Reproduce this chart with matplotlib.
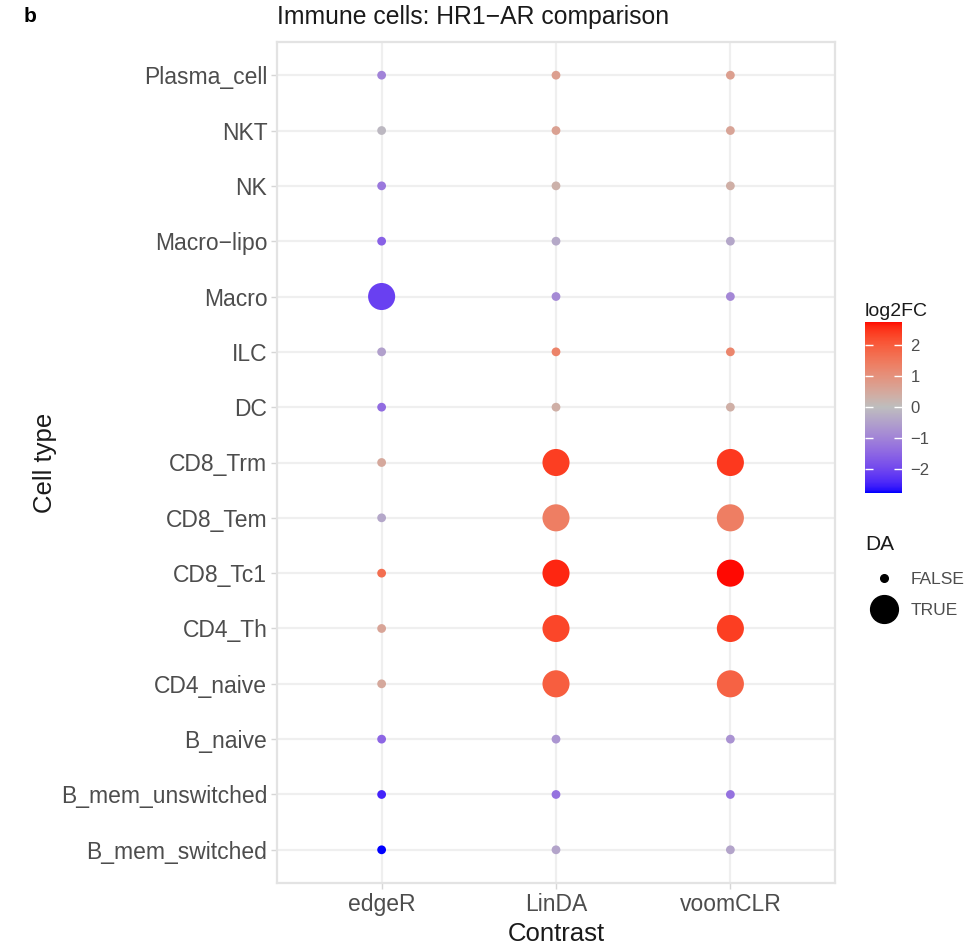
import numpy as np
import matplotlib
matplotlib.use("Agg")
import matplotlib.pyplot as plt
from matplotlib.colors import ListedColormap, Normalize
from matplotlib.lines import Line2D

plt.rcParams["font.family"] = ["Liberation Sans", "DejaVu Sans"]

# cell types, bottom to top
cell_types = ["B_mem_switched", "B_mem_unswitched", "B_naive", "CD4_naive", "CD4_Th",
              "CD8_Tc1", "CD8_Tem", "CD8_Trm", "DC", "ILC", "Macro", "Macro\u2212lipo",
              "NK", "NKT", "Plasma_cell"]
methods = ["edgeR", "LinDA", "voomCLR"]

lfc_edger = [-2.77, -2.5, -1.5, 0.5, 0.6, 1.7, -0.4, 0.5, -1.4, -0.5, -2.1, -1.6, -1.2, -0.1, -1.0]
lfc_linda = [-0.45, -1.3, -0.7, 1.95, 2.3, 2.6, 1.4, 2.4, 0.35, 1.3, -0.9, -0.35, 0.3, 0.65, 0.7]
lfc_voom = [-0.45, -1.3, -0.75, 1.9, 2.4, 2.74, 1.4, 2.45, 0.35, 1.25, -0.95, -0.4, 0.35, 0.6, 0.7]

da_edger = [False] * 10 + [True] + [False] * 4
da_linda = [False] * 3 + [True] * 5 + [False] * 7
da_voom = [False] * 3 + [True] * 5 + [False] * 7

lfc = [lfc_edger, lfc_linda, lfc_voom]
da = [da_edger, da_linda, da_voom]


# ggplot-style gradient2 (blue / grey / red), interpolated in CIELAB
def to_lab(rgb):
    c = np.asarray(rgb, float)
    lin = np.where(c <= 0.04045, c / 12.92, ((c + 0.055) / 1.055) ** 2.4)
    m = np.array([[0.4124, 0.3576, 0.1805], [0.2126, 0.7152, 0.0722], [0.0193, 0.1192, 0.9505]])
    xyz = m @ lin / np.array([0.95047, 1.0, 1.08883])
    f = np.where(xyz > 0.008856, np.cbrt(xyz), 7.787 * xyz + 16 / 116)
    return np.array([116 * f[1] - 16, 500 * (f[0] - f[1]), 200 * (f[1] - f[2])])


def from_lab(lab):
    L, a, b = lab
    fy = (L + 16) / 116
    fx = fy + a / 500
    fz = fy - b / 200
    f = np.array([fx, fy, fz])
    xyz = np.where(f ** 3 > 0.008856, f ** 3, (f - 16 / 116) / 7.787) * np.array([0.95047, 1.0, 1.08883])
    m = np.array([[3.2406, -1.5372, -0.4986], [-0.9689, 1.8758, 0.0415], [0.0557, -0.2040, 1.0570]])
    lin = np.clip(m @ xyz, 0, 1)
    return np.clip(np.where(lin <= 0.0031308, 12.92 * lin, 1.055 * lin ** (1 / 2.4) - 0.055), 0, 1)


low, mid, high = to_lab([0, 0, 1]), to_lab([190 / 255] * 3), to_lab([1, 0, 0])
cols = []
for t in np.linspace(0, 1, 256):
    if t < 0.5:
        cols.append(from_lab(low + (mid - low) * t * 2))
    else:
        cols.append(from_lab(mid + (high - mid) * (t - 0.5) * 2))
cmap = ListedColormap(cols)

all_vals = np.concatenate(lfc)
vmin, vmax = all_vals.min(), all_vals.max()
lim = max(abs(vmin), abs(vmax))
norm = Normalize(-lim, lim)

fig = plt.figure(figsize=(9.68, 9.44), dpi=100)
W, H = 968, 944
ax = fig.add_axes([277 / W, 61 / H, 558 / W, 841 / H])

y = np.arange(len(cell_types))
for i, m in enumerate(methods):
    sizes = [380 if d else 40 for d in da[i]]
    ax.scatter([i] * len(y), y, c=lfc[i], cmap=cmap, norm=norm, s=sizes, linewidths=0, zorder=3)

ax.set_xlim(-0.6, 2.6)
ax.set_ylim(-0.6, len(cell_types) - 0.4)
ax.set_xticks(range(len(methods)))
ax.set_xticklabels(methods)
ax.set_yticks(y)
ax.set_yticklabels(cell_types)
ax.set_axisbelow(True)
ax.grid(True, color="#EFEFEF", linewidth=1.6)
for sp in ax.spines.values():
    sp.set_color("#E3E3E3")
    sp.set_linewidth(1.6)
ax.tick_params(length=4, width=1, color="#D6D6D6", labelcolor="#4D4D4D", labelsize=16.5, pad=3)

ax.set_xlabel("Contrast", fontsize=18.5, color="#1A1A1A")
ax.xaxis.set_label_coords(0.5, -0.046)
ax.set_ylabel("Cell type", fontsize=18.5, color="#1A1A1A")
ax.yaxis.set_label_coords(-0.395, 0.5)

fig.text(277 / W, 1 - 17 / H, "Immune cells: HR1\u2212AR comparison", fontsize=17.8,
         color="#1A1A1A", va="center", ha="left")
fig.text(24 / W, 1 - 17 / H, "b", fontsize=15, fontweight="bold", va="center", ha="left")

# colourbar
fig.text(865 / W, 1 - 311 / H, "log2FC", fontsize=14, color="#1A1A1A", va="center", ha="left")
cax = fig.add_axes([865 / W, (H - 493) / H, 37 / W, 171 / H])
grad = np.linspace(vmin, vmax, 300).reshape(-1, 1)
cax.imshow(grad, aspect="auto", origin="lower", cmap=cmap, norm=norm,
           extent=[0, 1, vmin, vmax])
cax.set_xticks([])
cax.set_yticks([-2, -1, 0, 1, 2])
cax.yaxis.tick_right()
cax.yaxis.set_ticks_position("both")
cax.tick_params(axis="y", direction="in", length=6, width=1, color="white",
                labelleft=False, labelright=True, labelsize=12, labelcolor="#4D4D4D", pad=6)
for sp in cax.spines.values():
    sp.set_visible(False)

# size legend
fig.text(865 / W, 1 - 545 / H, "DA", fontsize=15, color="#1A1A1A", va="center", ha="left")
handles = [Line2D([], [], marker="o", linestyle="None", color="black", markersize=5.5),
           Line2D([], [], marker="o", linestyle="None", color="black", markersize=20)]
fig.legend(handles, ["FALSE", "TRUE"], loc="upper left", bbox_to_anchor=(858 / W, 1 - 563 / H),
           frameon=False, fontsize=12.5, labelcolor="#4D4D4D", handletextpad=0.55,
           labelspacing=0.9, borderpad=0, handlelength=2.0)

fig.savefig("out.png", dpi=100)
